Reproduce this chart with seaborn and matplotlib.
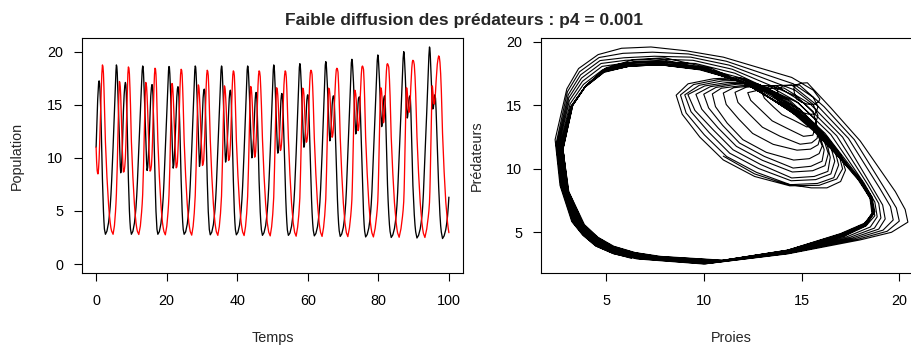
import matplotlib
matplotlib.use("Agg")
import matplotlib.pyplot as plt
import pandas as pd
import seaborn as sns

# ---- values (one line per cycle) ----
temps = [
    0, 0.15, 0.3, 0.45, 0.57, 0.7, 0.85, 0.98, 1.1, 1.28, 1.45, 1.62, 1.79, 1.94, 2.08, 2.22, 2.35,
    2.64, 3.07, 3.53, 3.77, 3.99, 4.20, 4.40, 4.81, 5.19, 5.49, 5.63, 5.75, 5.87, 5.99, 6.24, 6.44, 6.6, 6.73, 6.85, 6.98, 7.13, 7.28, 7.44, 7.59, 7.74, 7.94, 8.13, 8.30, 8.43, 8.56, 8.84, 9.00, 9.15, 9.30, 9.44, 9.59, 9.74,
    10.0, 10.42, 10.86, 11.09, 11.30, 11.51, 11.70, 12.1, 12.54, 12.89, 13.06, 13.2, 13.32, 13.44, 13.70, 13.90, 14.06, 14.19, 14.32, 14.45, 14.62, 14.79, 14.96, 15.13, 15.3, 15.49, 15.69, 15.85, 15.98, 16.11, 16.39, 16.55, 16.7, 16.84, 16.97, 17.12, 17.25,
    17.5, 17.92, 18.37, 18.60, 18.81, 19.03, 19.22, 19.62, 20.04, 20.37, 20.53, 20.66, 20.78, 20.90, 21.15, 21.34, 21.5, 21.62, 21.73, 21.85, 22.02, 22.19, 22.36, 22.53, 22.7, 22.88, 23.05, 23.2, 23.34, 23.47, 23.77, 23.94, 24.1, 24.25, 24.39, 24.54, 24.69,
    24.95, 25.38, 25.83, 26.07, 26.28, 26.50, 26.69, 27.1, 27.5, 27.82, 27.97, 28.1, 28.22, 28.34, 28.60, 28.80, 28.96, 29.07, 29.18, 29.3, 29.47, 29.64, 29.81, 29.98, 30.15, 30.33, 30.51, 30.66, 30.79, 30.91, 31.19, 31.35, 31.5, 31.65, 31.79, 31.95, 32.09,
    32.36, 32.79, 33.24, 33.47, 33.69, 33.90, 34.09, 34.5, 34.92, 35.26, 35.41, 35.55, 35.66, 35.77, 36.01, 36.20, 36.35, 36.47, 36.58, 36.7, 36.87, 37.04, 37.21, 37.38, 37.55, 37.73, 37.90, 38.05, 38.18, 38.31, 38.59, 38.75, 38.9, 39.05, 39.19, 39.34, 39.49,
    39.75, 40.19, 40.65, 40.89, 41.11, 41.33, 41.53, 41.95, 42.35, 42.67, 42.82, 42.95, 43.07, 43.19, 43.44, 43.64, 43.8, 43.92, 44.03, 44.15, 44.31, 44.47, 44.63, 44.79, 44.95, 45.09, 45.23, 45.35, 45.48, 45.61, 45.89, 46.05, 46.2, 46.36, 46.52, 46.69, 46.86,
    47.15, 47.59, 48.05, 48.29, 48.51, 48.73, 48.93, 49.35, 49.75, 50.07, 50.22, 50.35, 50.46, 50.57, 50.81, 51.0, 51.15, 51.27, 51.38, 51.5, 51.65, 51.8, 51.95, 52.1, 52.25, 52.39, 52.53, 52.65, 52.79, 52.94, 53.25, 53.43, 53.6, 53.75, 53.91, 54.07, 54.22,
    54.5, 54.94, 55.40, 55.64, 55.86, 56.08, 56.28, 56.7, 57.12, 57.46, 57.61, 57.75, 57.86, 57.97, 58.21, 58.40, 58.55, 58.67, 58.78, 58.9, 59.04, 59.18, 59.32, 59.46, 59.6, 59.74, 59.88, 60.0, 60.14, 60.27, 60.57, 60.74, 60.9, 61.06, 61.22, 61.39, 61.56,
    61.85, 62.29, 62.75, 62.99, 63.21, 63.43, 63.63, 64.05, 64.47, 64.81, 64.96, 65.1, 65.21, 65.32, 65.56, 65.75, 65.9, 66.02, 66.13, 66.25, 66.38, 66.51, 66.64, 66.77, 66.9, 67.04, 67.18, 67.3, 67.44, 67.57, 67.90, 68.08, 68.25, 68.41, 68.57, 68.74, 68.91,
    69.2, 69.63, 70.08, 70.32, 70.53, 70.75, 70.94, 71.35, 71.81, 72.18, 72.35, 72.5, 72.61, 72.72, 72.96, 73.15, 73.3, 73.40, 73.50, 73.6, 73.73, 73.86, 73.99, 74.12, 74.25, 74.37, 74.50, 74.6, 74.74, 74.87, 75.17, 75.34, 75.5, 75.65, 75.81, 75.97, 76.12,
    76.4, 76.84, 77.30, 77.54, 77.76, 77.98, 78.18, 78.6, 79.1, 79.5, 79.69, 79.85, 79.96, 80.07, 80.31, 80.50, 80.65, 80.75, 80.85, 80.95, 81.05, 81.15, 81.25, 81.35, 81.45, 81.56, 81.66, 81.75, 81.88, 82.01, 82.29, 82.45, 82.6, 82.78, 82.96, 83.15, 83.33,
    83.65, 84.1, 84.57, 84.82, 85.05, 85.27, 85.47, 85.9, 86.42, 86.84, 87.03, 87.2, 87.31, 87.41, 87.64, 87.81, 87.95, 88.03, 88.12, 88.2, 88.29, 88.38, 88.47, 88.56, 88.65, 88.76, 88.86, 88.95, 89.08, 89.21, 89.49, 89.65, 89.8, 90.0, 90.19, 90.40, 90.59,
    90.95, 91.4, 91.87, 92.12, 92.35, 92.57, 92.77, 93.2, 93.72, 94.14, 94.33, 94.5, 94.61, 94.71, 94.94, 95.11, 95.25, 95.32, 95.38, 95.45, 95.53, 95.61, 95.69, 95.77, 95.85, 95.92, 95.99, 96.05, 96.21, 96.37, 96.71, 96.91, 97.1, 97.29, 97.47, 97.67, 97.86,
    98.2, 98.65, 99.12, 99.37, 99.6, 99.82, 100.0,
]

proies = [
    11.0, 12.6, 14.2, 15.5, 16.3, 17.0, 17.25, 17.0, 16.3, 14.8, 12.8, 10.4, 8.0, 6.4, 5.0, 4.0, 3.3,
    2.8, 3.1, 3.9, 4.6, 5.4, 6.5, 7.8, 11.0, 14.3, 17.0, 18.2, 18.75, 18.6, 18.0, 15.6, 13.5, 11.9, 10.5, 9.2, 8.59, 8.9, 9.8, 11.0, 12.6, 14.4, 15.9, 16.8, 17.1, 16.9, 16.1, 12.6, 10.2, 8.0, 6.4, 5.0, 4.0, 3.3,
    2.8, 3.08, 3.85, 4.54, 5.33, 6.42, 7.7, 10.92, 14.28, 17.03, 18.22, 18.65, 18.55, 17.95, 15.7, 13.65, 12.07, 10.73, 9.48, 8.81, 9.1, 10.03, 11.17, 12.7, 14.43, 15.82, 16.65, 16.9, 16.7, 15.92, 12.48, 10.13, 7.97, 6.37, 4.98, 3.98, 3.28,
    2.8, 3.05, 3.8, 4.48, 5.27, 6.33, 7.6, 10.83, 14.27, 17.07, 18.23, 18.6, 18.5, 17.9, 15.8, 13.8, 12.23, 10.97, 9.77, 9.03, 9.35, 10.27, 11.33, 12.8, 14.47, 15.73, 16.5, 16.7, 16.5, 15.73, 12.37, 10.07, 7.93, 6.33, 4.97, 3.97, 3.27,
    2.8, 3.03, 3.75, 4.43, 5.2, 6.25, 7.5, 10.75, 14.25, 17.1, 18.25, 18.65, 18.55, 17.95, 15.9, 13.95, 12.4, 11.2, 10.05, 9.19, 9.55, 10.5, 11.5, 12.9, 14.5, 15.65, 16.35, 16.47, 16.3, 15.55, 12.25, 10.0, 7.9, 6.3, 4.95, 3.95, 3.25,
    2.75, 3.0, 3.7, 4.37, 5.13, 6.17, 7.4, 10.67, 14.23, 17.13, 18.27, 18.65, 18.55, 18.0, 16.0, 14.1, 12.57, 11.43, 10.33, 9.6, 9.9, 10.73, 11.67, 13.0, 14.53, 15.57, 16.2, 16.37, 16.15, 15.37, 12.13, 9.93, 7.87, 6.27, 4.93, 3.93, 3.23,
    2.75, 2.98, 3.65, 4.31, 5.07, 6.08, 7.3, 10.58, 14.22, 17.17, 18.28, 18.65, 18.55, 18.0, 16.1, 14.25, 12.73, 11.67, 10.62, 10.0, 10.25, 10.97, 11.83, 13.1, 14.57, 15.48, 16.05, 16.16, 15.95, 15.18, 12.02, 9.87, 7.83, 6.23, 4.92, 3.92, 3.22,
    2.7, 2.95, 3.6, 4.25, 5.0, 6.0, 7.2, 10.5, 14.2, 17.2, 18.3, 18.75, 18.6, 18.1, 16.2, 14.4, 12.9, 11.9, 10.9, 10.44, 10.6, 11.2, 12.0, 13.2, 14.6, 15.4, 15.9, 16.06, 15.8, 15.0, 11.9, 9.8, 7.8, 6.2, 4.9, 3.9, 3.2,
    2.7, 2.91, 3.55, 4.18, 4.92, 5.9, 7.1, 10.42, 14.22, 17.33, 18.52, 18.87, 18.75, 18.2, 16.5, 14.75, 13.3, 12.42, 11.53, 11.0, 11.15, 11.79, 12.5, 13.55, 14.77, 15.46, 15.85, 15.94, 15.75, 14.92, 11.75, 9.68, 7.72, 6.13, 4.85, 3.85, 3.17,
    2.65, 2.87, 3.5, 4.12, 4.83, 5.8, 7.0, 10.33, 14.23, 17.47, 18.73, 19.06, 18.95, 18.4, 16.8, 15.1, 13.7, 12.93, 12.17, 11.6, 11.75, 12.38, 13.0, 13.9, 14.93, 15.52, 15.8, 15.84, 15.7, 14.83, 11.6, 9.57, 7.63, 6.07, 4.8, 3.8, 3.13,
    2.6, 2.83, 3.45, 4.05, 4.75, 5.7, 6.9, 10.25, 14.25, 17.6, 18.95, 19.28, 19.15, 18.6, 17.1, 15.45, 14.1, 13.45, 12.8, 12.25, 12.4, 12.98, 13.5, 14.25, 15.1, 15.58, 15.65, 15.75, 15.6, 14.75, 11.45, 9.45, 7.55, 6.0, 4.75, 3.75, 3.1,
    2.55, 2.78, 3.4, 3.98, 4.67, 5.6, 6.8, 10.17, 14.27, 17.73, 19.17, 19.69, 19.55, 19.0, 17.4, 15.8, 14.5, 13.97, 13.43, 12.94, 13.1, 13.57, 14.0, 14.6, 15.27, 15.63, 15.75, 15.84, 15.6, 14.67, 11.3, 9.33, 7.47, 5.93, 4.7, 3.7, 3.07,
    2.5, 2.74, 3.35, 3.92, 4.58, 5.5, 6.7, 10.08, 14.28, 17.87, 19.38, 20.0, 19.85, 19.3, 17.7, 16.15, 14.9, 14.48, 14.07, 13.75, 13.85, 14.16, 14.5, 14.95, 15.43, 15.69, 15.78, 15.84, 15.6, 14.58, 11.15, 9.22, 7.38, 5.87, 4.65, 3.65, 3.03,
    2.45, 2.7, 3.3, 3.85, 4.5, 5.4, 6.6, 10.0, 14.3, 18.0, 19.6, 20.44, 20.3, 19.8, 18.0, 16.5, 15.3, 15.0, 14.7, 14.6, 14.65, 14.75, 15.0, 15.3, 15.6, 15.75, 15.88, 15.94, 15.6, 14.5, 11.0, 9.1, 7.3, 5.8, 4.6, 3.6, 3.0,
    2.4, 2.65, 3.25, 3.8, 4.45, 5.35, 6.3,
]

predateurs = [
    11.0, 9.6, 8.8, 8.5, 8.5, 9.0, 9.9, 11.1, 12.5, 14.5, 16.3, 17.9, 18.75, 18.6, 17.95, 16.6, 15.0,
    11.5, 8.2, 5.6, 4.6, 3.9, 3.4, 3.1, 2.8, 3.6, 4.9, 5.7, 6.6, 7.8, 9.2, 13.0, 15.8, 17.19, 17.1, 16.7, 15.8, 14.3, 12.5, 10.7, 9.4, 8.66, 8.7, 9.2, 10.0, 11.2, 12.8, 16.4, 17.9, 18.56, 18.45, 17.9, 16.6, 15.0,
    11.55, 8.23, 5.62, 4.62, 3.9, 3.4, 3.08, 2.78, 3.58, 4.87, 5.67, 6.55, 7.75, 9.17, 12.97, 15.73, 17.1, 17.02, 16.64, 15.82, 14.4, 12.68, 10.97, 9.72, 8.75, 8.85, 9.3, 10.3, 11.47, 13.03, 16.48, 17.88, 18.44, 18.35, 17.85, 16.57, 14.98,
    11.6, 8.27, 5.63, 4.63, 3.9, 3.4, 3.07, 2.75, 3.57, 4.83, 5.63, 6.5, 7.7, 9.13, 12.93, 15.67, 17.0, 16.93, 16.58, 15.83, 14.5, 12.87, 11.23, 10.03, 9.06, 9.15, 9.6, 10.6, 11.73, 13.27, 16.57, 17.87, 18.34, 18.25, 17.8, 16.53, 14.97,
    11.65, 8.3, 5.65, 4.65, 3.9, 3.4, 3.05, 2.72, 3.55, 4.8, 5.6, 6.45, 7.65, 9.1, 12.9, 15.6, 16.87, 16.8, 16.53, 15.85, 14.6, 13.05, 11.5, 10.35, 9.28, 9.4, 9.8, 10.9, 12.0, 13.5, 16.65, 17.85, 18.25, 18.15, 17.75, 16.5, 14.95,
    11.7, 8.33, 5.67, 4.67, 3.9, 3.4, 3.03, 2.7, 3.53, 4.77, 5.57, 6.4, 7.6, 9.07, 12.87, 15.53, 16.78, 16.72, 16.47, 15.87, 14.7, 13.23, 11.77, 10.67, 9.75, 9.85, 10.25, 11.2, 12.27, 13.73, 16.73, 17.83, 18.19, 18.1, 17.7, 16.47, 14.93,
    11.75, 8.37, 5.68, 4.68, 3.9, 3.4, 3.02, 2.68, 3.52, 4.73, 5.53, 6.35, 7.55, 9.03, 12.83, 15.47, 16.72, 16.66, 16.41, 15.88, 14.8, 13.42, 12.03, 10.98, 10.06, 10.2, 10.6, 11.5, 12.53, 13.97, 16.82, 17.82, 18.19, 18.1, 17.65, 16.43, 14.92,
    11.8, 8.4, 5.7, 4.7, 3.9, 3.4, 3.0, 2.65, 3.5, 4.7, 5.5, 6.3, 7.5, 9.0, 12.8, 15.4, 16.6, 16.55, 16.35, 15.9, 14.9, 13.6, 12.3, 11.3, 10.69, 10.8, 11.2, 11.8, 12.8, 14.2, 16.9, 17.8, 18.19, 18.1, 17.6, 16.4, 14.9,
    11.83, 8.43, 5.72, 4.71, 3.9, 3.38, 2.98, 2.62, 3.47, 4.65, 5.42, 6.22, 7.38, 8.87, 12.7, 15.3, 16.56, 16.52, 16.39, 15.97, 15.07, 13.92, 12.79, 11.93, 11.47, 11.55, 11.9, 12.4, 13.37, 14.7, 17.22, 18.05, 18.25, 18.15, 17.83, 16.65, 15.13,
    11.87, 8.47, 5.73, 4.72, 3.9, 3.37, 2.97, 2.6, 3.43, 4.6, 5.33, 6.13, 7.27, 8.73, 12.6, 15.2, 16.56, 16.52, 16.43, 16.03, 15.23, 14.23, 13.28, 12.57, 11.94, 12.05, 12.4, 13.0, 13.93, 15.2, 17.53, 18.3, 18.44, 18.35, 18.07, 16.9, 15.37,
    11.9, 8.5, 5.75, 4.73, 3.9, 3.35, 2.95, 2.58, 3.4, 4.55, 5.25, 6.05, 7.15, 8.6, 12.5, 15.1, 16.37, 16.34, 16.2, 16.0, 15.4, 14.55, 13.78, 13.2, 12.56, 12.65, 13.0, 13.6, 14.5, 15.7, 17.85, 18.55, 18.65, 18.55, 18.3, 17.15, 15.6,
    11.93, 8.53, 5.77, 4.73, 3.9, 3.33, 2.93, 2.55, 3.37, 4.5, 5.17, 5.97, 7.03, 8.47, 12.4, 15.0, 16.6, 16.57, 16.5, 16.17, 15.57, 14.87, 14.27, 13.83, 13.3, 13.4, 13.75, 14.2, 15.07, 16.2, 18.17, 18.8, 18.87, 18.75, 18.53, 17.4, 15.83,
    11.97, 8.57, 5.78, 4.74, 3.9, 3.32, 2.92, 2.52, 3.33, 4.45, 5.08, 5.88, 6.92, 8.33, 12.3, 14.9, 16.6, 16.58, 16.55, 16.23, 15.73, 15.18, 14.76, 14.47, 14.28, 14.35, 14.6, 14.9, 15.63, 16.7, 18.48, 19.05, 19.19, 19.1, 18.77, 17.65, 16.07,
    12.0, 8.6, 5.8, 4.75, 3.9, 3.3, 2.9, 2.5, 3.3, 4.4, 5.0, 5.8, 6.8, 8.2, 12.2, 14.8, 16.78, 16.75, 16.6, 16.3, 15.9, 15.5, 15.25, 15.1, 15.06, 15.15, 15.3, 15.5, 16.2, 17.2, 18.8, 19.3, 19.6, 19.5, 19.0, 17.9, 16.3,
    12.3, 8.7, 5.85, 4.8, 3.95, 3.35, 2.95,
]

ticks_temps = [0, 20, 40, 60, 80, 100]
ticks_population = [0, 5, 10, 15, 20]
ticks_proies = [5, 10, 15, 20]
ticks_predateurs = [5, 10, 15, 20]

titre = "Faible diffusion des prédateurs : p4 = 0.001"

# ---- style ----
sns.set_style("ticks")
plt.rcParams['font.family'] = ['Liberation Sans', 'DejaVu Sans']

df = pd.DataFrame({"Temps": temps, "Proies": proies, "Prédateurs": predateurs})

W, H = 911, 345
fig = plt.figure(figsize=(W / 100, H / 100), dpi=100)
ax1 = fig.add_axes([82 / W, 72.3 / H, 381 / W, 234.4 / H])
ax2 = fig.add_axes([541 / W, 72.3 / H, 381 / W, 234.4 / H])

FS = 10.4

# left: time series
sns.lineplot(data=df, x="Temps", y="Proies", ax=ax1, color="black", lw=0.95,
             estimator=None, sort=False)
sns.lineplot(data=df, x="Temps", y="Prédateurs", ax=ax1, color="#FF0000", lw=0.95,
             estimator=None, sort=False)


def r_lim(lo, hi):
    pad = (hi - lo) * 0.04
    return lo - pad, hi + pad


ax1.set_xlim(*r_lim(min(temps), max(temps)))
ax1.set_ylim(*r_lim(0, max(max(proies), max(predateurs))))
ax1.set_xticks(ticks_temps)
ax1.set_yticks(ticks_population)
ax1.set_xlabel("Temps", fontsize=FS)
ax1.set_ylabel("Population", fontsize=FS)
ax1.xaxis.set_label_coords(0.5, -0.25)
ax1.yaxis.set_label_coords(-0.152, 0.5)

# right: phase plane
sns.lineplot(data=df, x="Proies", y="Prédateurs", ax=ax2, color="black", lw=0.8,
             estimator=None, sort=False)
ax2.set_xlim(*r_lim(min(proies), max(proies)))
ax2.set_ylim(*r_lim(min(predateurs), max(predateurs)))
ax2.set_xticks(ticks_proies)
ax2.set_yticks(ticks_predateurs)
ax2.set_xlabel("Proies", fontsize=FS)
ax2.set_ylabel("Prédateurs", fontsize=FS)
ax2.xaxis.set_label_coords(0.5, -0.25)
ax2.yaxis.set_label_coords(-0.15, 0.5)

for ax in (ax1, ax2):
    for s in ax.spines.values():
        s.set_visible(True)
        s.set_color("black")
        s.set_linewidth(0.8)
    ax.tick_params(axis="both", direction="out", length=6, width=0.8,
                   labelsize=FS, colors="black")
    ax.tick_params(axis="x", pad=9)
    ax.tick_params(axis="y", pad=7.5)
    ax.set_facecolor("white")

fig.text(464 / W, 1 - 20 / H, titre, ha="center", va="center",
         fontsize=12.5, fontweight="bold")

fig.savefig("out.png", dpi=100, facecolor="white")
